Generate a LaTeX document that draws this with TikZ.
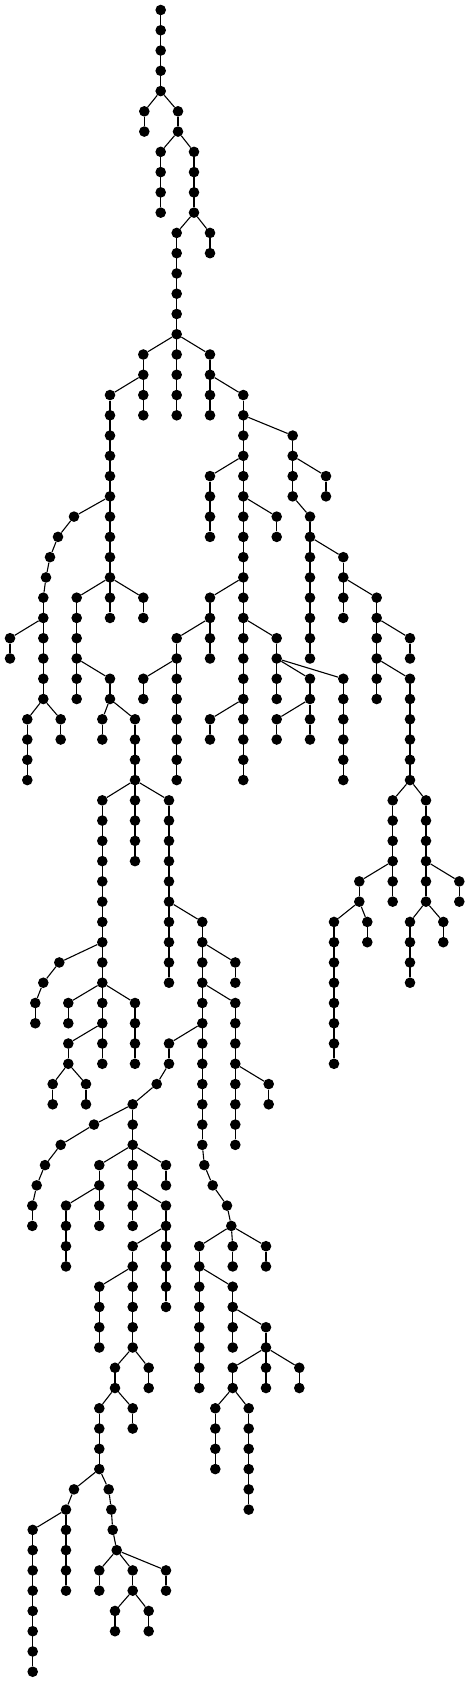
\documentclass[tikz,border=0pt]{standalone}
\tikzset{dot/.style={circle, fill=black, inner sep=0pt, minimum size=10.6pt},
  edge/.style={line width=1.1pt, black}}
\newcommand\V[4]{\foreach \lv in {#1,...,#2}{\node[dot] (n\lv x#4) at (#3,\lv) {};}\ifnum#1<#2\relax\draw[edge] (n#1x#4) -- (n#2x#4);\fi}
\newcommand\E[2]{\draw[edge] (n#1) -- (n#2);}
\begin{document}
\begin{tikzpicture}[x=1pt, y=-20.265pt]
\useasboundingbox (0,-0.49346) rectangle (470,82.5067);
\V{0}{4}{160.7}{161}
\V{5}{6}{144.3}{144}
\V{5}{6}{178}{178}
\E{4x161}{5x144} \E{4x161}{5x178}
\V{7}{10}{160.7}{161}
\V{7}{10}{194}{194}
\E{6x178}{7x161} \E{6x178}{7x194}
\V{11}{12}{210}{210}
\V{11}{20}{176.7}{177}
\E{10x194}{11x177} \E{10x194}{11x210}
\V{17}{20}{143.3}{143}
\V{17}{20}{210}{210}
\E{16x177}{17x143} \E{16x177}{17x210}
\V{19}{30}{110}{110}
\E{18x143}{19x110}
\V{19}{38}{243.3}{243}
\E{18x210}{19x243}
\V{21}{24}{292.7}{293}
\E{20x243}{21x293}
\V{23}{24}{326}{326}
\E{22x293}{23x326}
\V{23}{26}{210}{210}
\E{22x243}{23x210}
\V{25}{26}{276.7}{277}
\E{24x243}{25x277}
\V{25}{32}{310}{310}
\E{24x293}{25x310}
\V{27}{30}{343.3}{343}
\E{26x310}{27x343}
\V{29}{34}{376.7}{377}
\E{28x343}{29x377}
\V{31}{32}{410}{410}
\E{30x377}{31x410}
\V{33}{38}{410}{410}
\E{32x377}{33x410}
\V{25}{25}{74}{74}
\V{26}{26}{58}{58}
\V{27}{27}{50}{50}
\V{28}{28}{46}{46}
\V{29}{34}{43.3}{43}
\E{24x110}{25x74} \E{25x74}{26x58} \E{26x58}{27x50} \E{27x50}{28x46} \E{28x46}{29x43}
\V{31}{32}{10}{10}
\E{30x43}{31x10}
\V{35}{38}{27.3}{27}
\V{35}{36}{60.7}{61}
\E{34x43}{35x27} \E{34x43}{35x61}
\V{29}{34}{76.7}{77}
\V{29}{30}{143.3}{143}
\E{28x110}{29x77} \E{28x110}{29x143}
\V{33}{34}{110}{110}
\E{32x77}{33x110}
\V{35}{36}{102.3}{102}
\V{35}{42}{135}{135}
\E{34x110}{35x102} \E{34x110}{35x135}
\V{29}{32}{210}{210}
\E{28x243}{29x210}
\V{31}{38}{176.7}{177}
\E{30x210}{31x177}
\V{33}{34}{143.3}{143}
\E{32x177}{33x143}
\V{31}{34}{276.7}{277}
\E{30x243}{31x277}
\V{33}{34}{310}{310}
\V{33}{38}{343.3}{343}
\E{32x277}{33x310} \E{32x277}{33x343}
\V{35}{36}{276.7}{277}
\V{35}{36}{310}{310}
\E{34x310}{35x277} \E{34x310}{35x310}
\V{35}{36}{210}{210}
\E{34x243}{35x210}
\V{39}{52}{102.3}{102}
\V{39}{48}{169}{169}
\E{38x135}{39x102} \E{38x135}{39x169}
\V{45}{56}{202.3}{202}
\E{44x169}{45x202}
\V{47}{48}{235.3}{235}
\E{46x202}{47x235}
\V{49}{56}{235.3}{235}
\E{48x202}{49x235}
\V{53}{54}{268.7}{269}
\E{52x235}{53x269}
\V{51}{52}{169}{169}
\E{50x202}{51x169}
\V{53}{53}{156.7}{157}
\E{52x169}{53x157}
\V{54}{60}{132.7}{133}
\E{53x157}{54x133}
\V{55}{55}{94}{94}
\V{56}{56}{60.7}{61}
\V{57}{57}{45}{45}
\V{58}{58}{36.7}{37}
\V{59}{60}{32.3}{32}
\E{54x133}{55x94} \E{55x94}{56x61} \E{56x61}{57x45} \E{57x45}{58x37} \E{58x37}{59x32}
\V{57}{60}{99.3}{99}
\V{57}{58}{166}{166}
\E{56x133}{57x99} \E{56x133}{57x166}
\V{59}{62}{66}{66}
\E{58x99}{59x66}
\V{59}{64}{166}{166}
\E{58x133}{59x166}
\V{61}{66}{132.7}{133}
\E{60x166}{61x133}
\V{63}{66}{99.3}{99}
\E{62x133}{63x99}
\V{67}{68}{115}{115}
\V{67}{68}{148.7}{149}
\E{66x133}{67x115} \E{66x133}{67x149}
\V{69}{72}{99.3}{99}
\V{69}{70}{132.7}{133}
\E{68x115}{69x99} \E{68x115}{69x133}
\V{73}{73}{74}{74}
\V{74}{78}{66}{66}
\E{72x99}{73x74} \E{73x74}{74x66}
\V{75}{82}{32.7}{33}
\E{74x66}{75x33}
\V{73}{73}{108.7}{109}
\V{74}{74}{111.3}{111}
\V{75}{75}{112.7}{113}
\V{76}{76}{116.7}{117}
\E{72x99}{73x109} \E{73x109}{74x111} \E{74x111}{75x113} \E{75x113}{76x117}
\V{77}{78}{99.3}{99}
\V{77}{78}{132.7}{133}
\V{77}{78}{166}{166}
\E{76x117}{77x99} \E{76x117}{77x133} \E{76x117}{77x166}
\V{79}{80}{115}{115}
\V{79}{80}{148.7}{149}
\E{78x133}{79x115} \E{78x133}{79x149}
\V{57}{57}{204.3}{204}
\V{58}{58}{212.7}{213}
\V{59}{59}{227}{227}
\V{60}{60}{231.3}{231}
\E{56x202}{57x204} \E{57x204}{58x213} \E{58x213}{59x227} \E{59x227}{60x231}
\V{61}{68}{199.3}{199}
\V{61}{62}{232.7}{233}
\V{61}{62}{266}{266}
\E{60x231}{61x199} \E{60x231}{61x233} \E{60x231}{61x266}
\V{63}{66}{232.7}{233}
\E{62x199}{63x233}
\V{65}{68}{266}{266}
\E{64x233}{65x266}
\V{67}{68}{232.7}{233}
\V{67}{68}{299.3}{299}
\E{66x266}{67x233} \E{66x266}{67x299}
\V{69}{72}{215.3}{215}
\V{69}{74}{248.7}{249}
\E{68x233}{69x215} \E{68x233}{69x249}
\V{39}{44}{392.7}{393}
\V{39}{44}{426}{426}
\E{38x410}{39x393} \E{38x410}{39x426}
\V{43}{44}{359.3}{359}
\E{42x393}{43x359}
\V{43}{44}{459.3}{459}
\E{42x426}{43x459}
\V{45}{52}{334}{334}
\V{45}{46}{367.3}{367}
\E{44x359}{45x334} \E{44x359}{45x367}
\V{45}{48}{410}{410}
\V{45}{46}{443.3}{443}
\E{44x426}{45x410} \E{44x426}{45x443}
\V{47}{47}{59.3}{59}
\V{48}{48}{43.3}{43}
\V{49}{50}{35.3}{35}
\E{46x102}{47x59} \E{47x59}{48x43} \E{48x43}{49x35}
\V{49}{50}{68.3}{68}
\V{49}{52}{135}{135}
\E{48x102}{49x68} \E{48x102}{49x135}
\V{51}{52}{68.3}{68}
\E{50x102}{51x68}
\V{53}{54}{52.7}{53}
\V{53}{54}{86}{86}
\E{52x68}{53x53} \E{52x68}{53x86}
\end{tikzpicture}
\end{document}
